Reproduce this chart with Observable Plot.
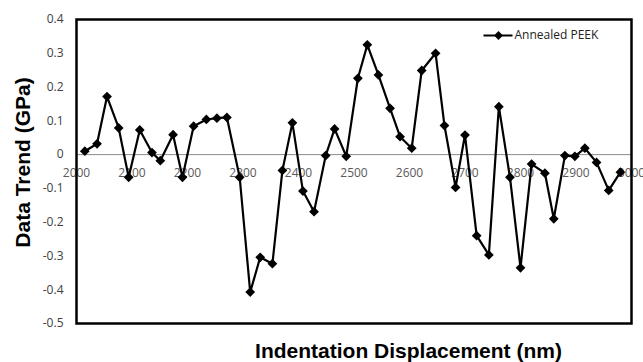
<!DOCTYPE html>
<html>
<head>
<meta charset="utf-8">
<script src="https://cdn.jsdelivr.net/npm/d3@7"></script>
<script src="https://cdn.jsdelivr.net/npm/@observablehq/plot@0.6"></script>
<style>
  html, body { margin: 0; padding: 0; background: #fff; }
  #chart { width: 643px; height: 362px; }
</style>
</head>
<body>
<div id="chart"></div>
<script>
const displacement = [2015, 2037, 2055, 2076, 2094, 2114, 2136, 2151, 2174, 2191, 2211, 2234, 2253, 2271, 2294, 2313, 2331, 2353, 2371, 2389, 2408, 2428, 2449, 2465, 2486, 2507, 2524, 2544, 2565, 2583, 2604, 2622, 2647, 2663, 2683, 2700, 2721, 2743, 2761, 2781, 2800, 2820, 2844, 2860, 2880, 2898, 2916, 2937, 2959, 2980];
const trend = [0.01, 0.032, 0.172, 0.079, -0.067, 0.073, 0.006, -0.018, 0.059, -0.067, 0.084, 0.104, 0.108, 0.11, -0.067, -0.407, -0.304, -0.323, -0.047, 0.094, -0.108, -0.169, -0.003, 0.076, -0.005, 0.226, 0.325, 0.236, 0.137, 0.053, 0.019, 0.249, 0.30, 0.086, -0.097, 0.058, -0.24, -0.297, 0.142, -0.067, -0.335, -0.028, -0.055, -0.19, -0.003, -0.005, 0.019, -0.023, -0.106, -0.052];
const xTicks = [2000, 2100, 2200, 2300, 2400, 2500, 2600, 2700, 2800, 2900, 3000];
const yTicks = [-0.5, -0.4, -0.3, -0.2, -0.1, 0, 0.1, 0.2, 0.3, 0.4];
const seriesName = "Annealed PEEK";
const xTitle = "Indentation Displacement (nm)";
const yTitle = "Data Trend (GPa)";

const data = displacement.map((x, i) => ({x, y: trend[i]}));
const xDomain = [xTicks[0], xTicks[xTicks.length - 1]];
const yDomain = [yTicks[0], yTicks[yTicks.length - 1]];

const legendLine = {draw(ctx) { ctx.moveTo(-14.5, 0); ctx.lineTo(14.5, 0); }};
const titleFont = "'Liberation Sans', Arial, sans-serif";

const chart = Plot.plot({
  width: 643,
  height: 362,
  marginLeft: 76,
  marginRight: 12,
  marginTop: 19,
  marginBottom: 39,
  style: {fontFamily: "'Open Sans', sans-serif", background: "#fff", overflow: "visible"},
  x: {domain: xDomain, axis: null},
  y: {domain: yDomain},
  marks: [
    Plot.axisY({ticks: yTicks, tickSize: 0, tickPadding: 13, label: null,
      tickFormat: d => d === 0 ? "0" : d.toFixed(1), fontSize: 12, fill: "#404040"}),
    Plot.ruleY([0], {stroke: "#8c8c8c", strokeWidth: 1}),
    Plot.text(xTicks, {x: d => d, y: 0, dy: 19, text: d => String(d), fontSize: 12, fill: "#595959"}),
    Plot.line(data, {x: "x", y: "y", stroke: "#000", strokeWidth: 2.2}),
    Plot.dot(data, {x: "x", y: "y", symbol: "diamond2", r: 4.4, fill: "#000", stroke: "none"}),
    // legend
    Plot.dot([seriesName], {frameAnchor: "top-right", dx: -133.5, dy: 16, symbol: legendLine, r: 5, stroke: "#000", strokeWidth: 2, fill: "none"}),
    Plot.dot([seriesName], {frameAnchor: "top-right", dx: -133, dy: 16, symbol: "diamond2", r: 4, fill: "#000", stroke: "none"}),
    Plot.text([seriesName], {frameAnchor: "top-right", dx: -117, dy: 16, textAnchor: "start", lineAnchor: "middle", fontSize: 12, fill: "#222", text: d => d}),
    // titles
    Plot.text([xTitle], {frameAnchor: "bottom", dx: 54.5, dy: 27.3, textAnchor: "middle", lineAnchor: "middle", text: d => d,
      fontSize: 21, fontWeight: "bold", fontFamily: titleFont, fill: "#000"}),
    Plot.text([yTitle], {frameAnchor: "left", dx: -53.7, dy: -9, rotate: -90, textAnchor: "middle", lineAnchor: "middle", text: d => d,
      fontSize: 21, fontWeight: "bold", fontFamily: titleFont, fill: "#000"}),
    Plot.frame({stroke: "#000", strokeWidth: 2.5})
  ]
});
document.getElementById("chart").appendChild(chart);
</script>
</body>
</html>
